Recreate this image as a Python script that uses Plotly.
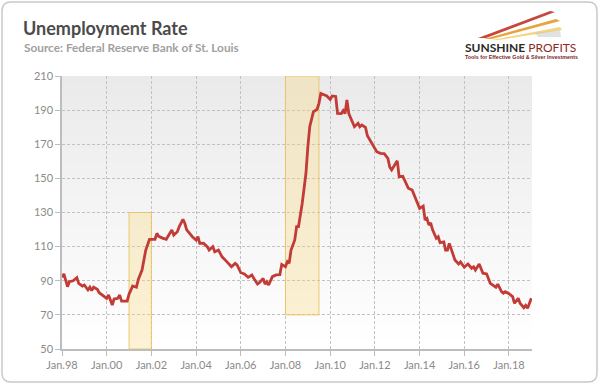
import plotly.graph_objects as go

# ---------------- data ----------------
dates = [
    "1998-01", "1998-02", "1998-04", "1998-05", "1998-07", "1998-09", "1998-10", "1998-12",
    "1999-01", "1999-03", "1999-04", "1999-05", "1999-06", "1999-08", "1999-09", "1999-11",
    "2000-01", "2000-02", "2000-04", "2000-05", "2000-07", "2000-08", "2000-09", "2000-12",
    "2001-01", "2001-02", "2001-03", "2001-05", "2001-06", "2001-08", "2001-09", "2001-10", "2001-12",
    "2002-01", "2002-03", "2002-04", "2002-05", "2002-07", "2002-09", "2002-12",
    "2003-01", "2003-03", "2003-04", "2003-06", "2003-07", "2003-08", "2003-11",
    "2004-01", "2004-02", "2004-03", "2004-05", "2004-07", "2004-08", "2004-10", "2004-11",
    "2005-01", "2005-02", "2005-03", "2005-05", "2005-08", "2005-10", "2005-11",
    "2006-01", "2006-03", "2006-05", "2006-07", "2006-08", "2006-10", "2006-11",
    "2007-01", "2007-02", "2007-03", "2007-04", "2007-06", "2007-08", "2007-10", "2007-11",
    "2008-01", "2008-02", "2008-03", "2008-04", "2008-06", "2008-07", "2008-08", "2008-10", "2008-12",
    "2009-01", "2009-02", "2009-04", "2009-06", "2009-07", "2009-08", "2009-10", "2009-11",
    "2010-01", "2010-02", "2010-04", "2010-05", "2010-07", "2010-08", "2010-09", "2010-10", "2010-11",
    "2011-01", "2011-02", "2011-04", "2011-05", "2011-06", "2011-08", "2011-09", "2011-12",
    "2012-02", "2012-04", "2012-06", "2012-08", "2012-09", "2012-10",
    "2013-01", "2013-02", "2013-04", "2013-05", "2013-07", "2013-09", "2013-11",
    "2014-01", "2014-03", "2014-04", "2014-05", "2014-06", "2014-07", "2014-08", "2014-10", "2014-11", "2014-12",
    "2015-02", "2015-03", "2015-04", "2015-05", "2015-07", "2015-08", "2015-10", "2015-11",
    "2016-01", "2016-03", "2016-05", "2016-06", "2016-07", "2016-09", "2016-11",
    "2017-01", "2017-03", "2017-04", "2017-06", "2017-07", "2017-09", "2017-10", "2017-11",
    "2018-01", "2018-03", "2018-04", "2018-06", "2018-07", "2018-09", "2018-10", "2018-11",
    "2019-01",
]
values = [
    92.0, 94.0, 86.5, 89.4, 90.0, 91.8, 88.5, 86.9,
    87.5, 84.6, 86.2, 84.2, 86.2, 85.0, 83.0, 81.2,
    79.7, 81.6, 75.8, 79.3, 79.7, 81.6, 78.1, 78.1,
    82.2, 84.6, 86.9, 86.2, 90.8, 96.3, 102.2, 108.0, 114.3,
    114.3, 114.3, 117.8, 116.0, 115.0, 114.3, 119.8,
    116.8, 118.7, 121.7, 126.0, 123.7, 119.8, 115.8,
    113.9, 115.8, 111.9, 112.0, 110.0, 108.0, 110.0, 107.0,
    108.0, 105.7, 104.0, 101.8, 98.2, 100.2, 99.3,
    94.7, 94.0, 92.0, 93.4, 91.5, 88.1, 88.9,
    91.4, 88.0, 89.4, 87.5, 92.4, 93.4, 93.6, 99.5,
    98.2, 101.2, 100.2, 108.0, 113.9, 121.7, 121.7, 135.4, 153.0,
    168.6, 180.3, 189.0, 190.5, 194.0, 199.8, 198.9, 198.4,
    196.3, 198.3, 198.0, 188.1, 188.0, 189.7, 188.0, 195.9, 188.0,
    182.3, 180.3, 182.3, 180.3, 181.3, 179.9, 175.0, 169.5,
    165.6, 164.7, 164.5, 161.7, 156.5, 154.9,
    160.3, 151.0, 151.2, 149.0, 144.2, 143.2, 137.7,
    132.4, 133.8, 125.6, 126.5, 122.7, 123.9, 119.8, 114.9, 115.8, 112.3,
    112.8, 108.0, 108.0, 111.9, 106.0, 102.2, 99.8, 101.0,
    97.9, 99.8, 97.3, 98.2, 96.3, 99.8, 94.4,
    94.0, 88.5, 87.6, 86.2, 88.0, 83.6, 82.7, 83.6,
    82.4, 80.7, 76.8, 79.7, 76.8, 74.2, 75.6, 73.9,
    79.7,
]

# highlighted periods: (start, end, bottom, top)
band_starts = ["2001-01-01", "2008-01-01"]
band_ends = ["2002-01-01", "2009-07-01"]
band_bottoms = [50, 70]
band_tops = [130, 210]

x_range = ["1998-01-01", "2019-01-12"]
y_range = [50, 210]

title_text = "Unemployment Rate"
source_text = "Source: Federal Reserve Bank of St. Louis"

# ---------------- layout helpers ----------------
W, H = 600, 385
ML, MR, MT, MB = 62, 68, 76, 36
PW, PH = W - ML - MR, H - MT - MB


def PX(x):
    return (x - ML) / PW


def PY(y):
    return (H - MB - y) / PH


fig = go.Figure()

fig.add_trace(go.Scatter(
    x=dates, y=values, mode="lines",
    line=dict(color="#c23b36", width=2.8),
    hoverinfo="skip", showlegend=False,
))

shapes = []

# gradient background of the plot area
N = 60
c_top = (234, 234, 234)
c_bot = (255, 255, 255)
for i in range(N):
    t = i / (N - 1)
    c = tuple(round(c_bot[k] + (c_top[k] - c_bot[k]) * t) for k in range(3))
    shapes.append(dict(
        type="rect", xref="x domain", yref="y domain",
        x0=0, x1=1, y0=i / N, y1=min(1.0, (i + 1) / N + 0.002),
        fillcolor="rgb(%d,%d,%d)" % c, line=dict(width=0), layer="below",
    ))

# highlight bands
for s, e, b, t in zip(band_starts, band_ends, band_bottoms, band_tops):
    shapes.append(dict(
        type="rect", xref="x", yref="y", x0=s, x1=e, y0=b, y1=t,
        fillcolor="rgba(250,218,120,0.32)",
        line=dict(color="rgba(232,196,96,0.9)", width=1),
        layer="between",
    ))

# rounded outer frame
x0, x1 = PX(2), PX(597)
y0, y1 = PY(382), PY(2)
rx, ry = 9 / PW, 9 / PH
frame = (f"M {x0+rx},{y1} L {x1-rx},{y1} Q {x1},{y1} {x1},{y1-ry} "
         f"L {x1},{y0+ry} Q {x1},{y0} {x1-rx},{y0} L {x0+rx},{y0} "
         f"Q {x0},{y0} {x0},{y0+ry} L {x0},{y1-ry} Q {x0},{y1} {x0+rx},{y1} Z")
shapes.append(dict(type="path", xref="paper", yref="paper", path=frame,
                   line=dict(color="#c9c9c9", width=1.5), layer="below"))


def wedge(pts, color):
    p = "M " + " L ".join(f"{PX(a)},{PY(b)}" for a, b in pts) + " Z"
    return dict(type="path", xref="paper", yref="paper", path=p,
                fillcolor=color, line=dict(width=0), layer="above")


# logo streaks
shapes.append(wedge([(478, 38), (550, 11), (555, 12), (486, 38)], "#c8463b"))
shapes.append(wedge([(484, 39), (556, 19), (560, 21), (492, 39)], "#e8a43c"))
shapes.append(wedge([(492, 40), (560, 27), (562, 30), (498, 40)], "#f4d47e"))
shapes.append(wedge([(535, 33), (560, 30), (561, 37), (538, 37)], "rgba(190,190,190,0.45)"))

annotations = [
    dict(text="<b>" + title_text + "</b>", xref="paper", yref="paper",
         x=PX(21), y=PY(28), xanchor="left", yanchor="middle", showarrow=False,
         font=dict(family="Lato", size=18, color="#4b4b4b")),
    dict(text="<b>" + source_text + "</b>", xref="paper", yref="paper",
         x=PX(22), y=PY(48), xanchor="left", yanchor="middle", showarrow=False,
         font=dict(family="Lato", size=11.8, color="#a0a0a0")),
    dict(text="<b>SUNSHINE</b> <span style='color:#8c2a1e'>PROFITS</span>", xref="paper", yref="paper",
         x=PX(520), y=PY(48), xanchor="center", yanchor="middle", showarrow=False,
         font=dict(family="Lato", size=12, color="#2a2a2a")),
    dict(text="<b>Tools for Effective Gold &amp; Silver Investments</b>", xref="paper", yref="paper",
         x=PX(521), y=PY(57), xanchor="center", yanchor="middle", showarrow=False,
         font=dict(family="Liberation Sans Narrow, Liberation Sans", size=5.3, color="#7a1f1f")),
]

fig.update_layout(
    width=W, height=H,
    margin=dict(l=ML, r=MR, t=MT, b=MB, pad=0),
    paper_bgcolor="white", plot_bgcolor="white",
    shapes=shapes, annotations=annotations,
    font=dict(family="Lato", size=11, color="#8a8a8a"),
    xaxis=dict(
        type="date", range=x_range, tick0="1998-01-01", dtick="M24",
        tickformat="%b.%y", showgrid=True, gridcolor="#c2c2c2", griddash="3px,2px", gridwidth=1,
        showline=True, linecolor="#bdbdbd", linewidth=1.5,
        ticks="outside", ticklen=5, tickcolor="#bdbdbd",
        tickfont=dict(family="Lato", size=11, color="#8a8a8a"),
        zeroline=False, fixedrange=True,
    ),
    yaxis=dict(
        range=y_range, dtick=20, tick0=50,
        showgrid=True, gridcolor="#c2c2c2", griddash="3px,2px", gridwidth=1,
        showline=True, linecolor="#bdbdbd", linewidth=1.5,
        ticks="outside", ticklen=5, tickcolor="#bdbdbd",
        tickfont=dict(family="Lato", size=11, color="#8a8a8a"),
        zeroline=False, fixedrange=True,
    ),
    showlegend=False,
)

fig.write_html(
    "out.html",
    config={"displayModeBar": False},
    post_script="document.body.style.margin='0';document.body.style.overflow='hidden';",
)
